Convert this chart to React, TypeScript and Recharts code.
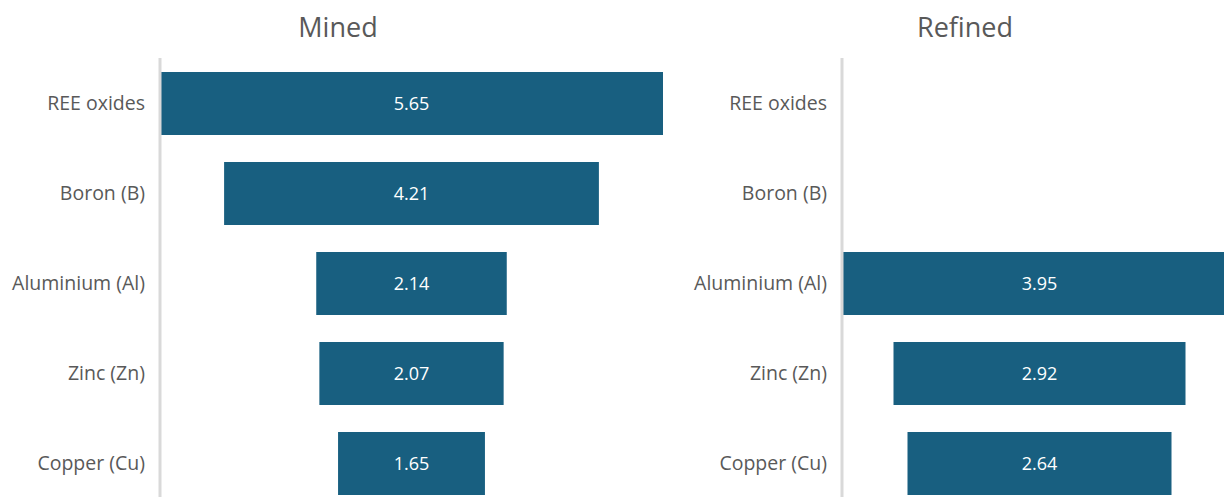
import React from 'react';
import { BarChart, Bar, XAxis, YAxis, LabelList } from 'recharts';

const categories = ['REE oxides', 'Boron (B)', 'Aluminium (Al)', 'Zinc (Zn)', 'Copper (Cu)'];
const minedValues: (number | null)[] = [5.65, 4.21, 2.14, 2.07, 1.65];
const refinedValues: (number | null)[] = [null, null, 3.95, 2.92, 2.64];

const BAR_COLOR = '#185f80';
const TEXT_COLOR = '#595959';
const FONT = '"Open Sans", "Noto Sans", sans-serif';

function buildRows(values: (number | null)[]) {
  const max = Math.max(...values.map((v) => v ?? 0));
  return categories.map((name, i) => {
    const v = values[i];
    return { name, offset: v == null ? 0 : (max - v) / 2, value: v };
  });
}

interface PanelProps {
  title: string;
  values: (number | null)[];
  left: number;
  plotWidth: number;
  titleX: number;
}

function FunnelPanel({ title, values, left, plotWidth, titleX }: PanelProps) {
  const rows = buildRows(values);
  const max = Math.max(...values.map((v) => v ?? 0));
  const axisWidth = 160;
  return (
    <>
      <div
        style={{
          position: 'absolute',
          left: titleX - 150,
          top: 8,
          width: 300,
          textAlign: 'center',
          fontFamily: FONT,
          fontSize: 27,
          color: TEXT_COLOR,
        }}
      >
        {title}
      </div>
      <div style={{ position: 'absolute', left, top: 0 }}>
        <BarChart
          layout="vertical"
          width={axisWidth + plotWidth}
          height={508}
          data={rows}
          margin={{ top: 58, right: 0, bottom: 0, left: 0 }}
          barSize={63}
        >
          <XAxis type="number" domain={[0, max]} hide />
          <YAxis
            type="category"
            dataKey="name"
            width={axisWidth}
            tickLine={false}
            tickSize={0}
            tickMargin={15}
            axisLine={{ stroke: '#d9d9d9', strokeWidth: 3 }}
            tick={{ fontSize: 19.5, fill: TEXT_COLOR, fontFamily: FONT }}
          />
          <Bar dataKey="offset" stackId="a" fill="transparent" isAnimationActive={false} />
          <Bar dataKey="value" stackId="a" fill={BAR_COLOR} isAnimationActive={false}>
            <LabelList
              dataKey="value"
              position="center"
              fill="#ffffff"
              fontSize={18}
              fontFamily={FONT}
              formatter={(v: any) => (v == null ? '' : Number(v).toFixed(2))}
            />
          </Bar>
        </BarChart>
      </div>
    </>
  );
}

export default function App() {
  return (
    <div
      style={{
        position: 'absolute',
        left: 0,
        top: 0,
        width: 1224,
        height: 497,
        overflow: 'hidden',
        background: '#ffffff',
      }}
    >
      <FunnelPanel title="Mined" values={minedValues} left={0} plotWidth={503} titleX={338} />
      <FunnelPanel title="Refined" values={refinedValues} left={682} plotWidth={395} titleX={965} />
    </div>
  );
}
